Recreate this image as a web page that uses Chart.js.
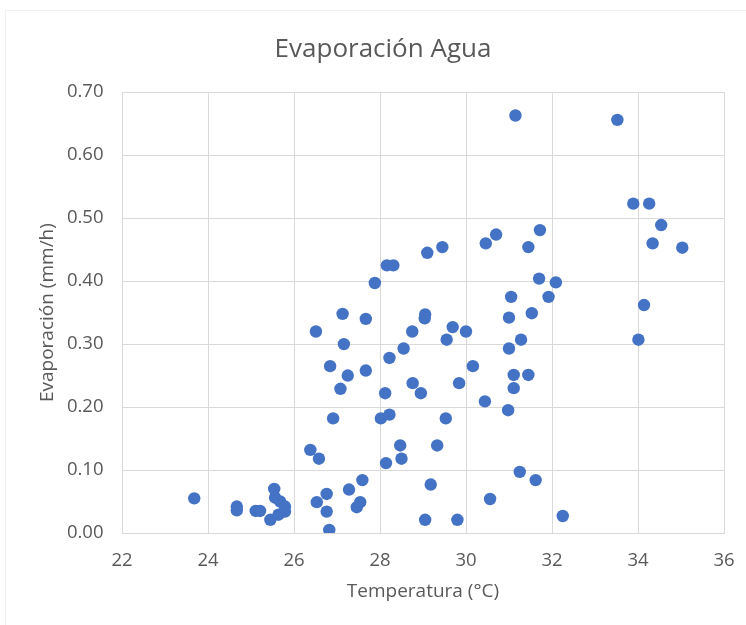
<!DOCTYPE html>
<html>
<head>
<meta charset="utf-8">
<script src="https://cdn.jsdelivr.net/npm/chart.js@4/dist/chart.umd.min.js"></script>
<style>
  html, body { margin: 0; padding: 0; background: #fff; }
  #wrap { width: 746px; height: 625px; }
</style>
</head>
<body>
<div id="wrap"><canvas id="evapChart" width="746" height="625"></canvas></div>
<script>
// data
const temperatura = [
    23.68, 24.67, 24.67, 25.11, 25.21, 25.45, 25.54, 25.56, 25.68, 25.79,
    25.79, 25.64, 26.53, 26.76, 26.76, 26.82, 27.28, 27.59, 27.46, 27.54,
    29.05, 29.18, 26.38, 26.58, 26.91, 28.14, 28.47, 28.50, 28.02, 28.22,
    26.51, 27.13, 27.67, 27.16, 26.84, 27.25, 27.67, 27.08, 28.22, 28.55,
    28.75, 29.05, 29.04, 28.76, 28.95, 28.12, 29.69, 29.55, 30.00, 31.00,
    31.53, 31.28, 31.00, 34.14, 34.01, 30.16, 29.84, 31.11, 31.45, 31.11,
    30.44, 30.98, 29.53, 29.33, 31.25, 31.62, 30.56, 29.80, 32.25, 31.15,
    33.52, 33.89, 34.26, 34.54, 34.34, 35.03, 29.10, 29.45, 30.46, 30.70,
    31.72, 31.45, 31.70, 32.09, 31.92, 31.05, 28.16, 28.31, 27.88
];
const evaporacion = [
    0.055, 0.042, 0.036, 0.035, 0.035, 0.021, 0.070, 0.056, 0.050, 0.042,
    0.034, 0.029, 0.049, 0.062, 0.034, 0.005, 0.069, 0.084, 0.041, 0.049,
    0.021, 0.077, 0.132, 0.118, 0.182, 0.111, 0.139, 0.118, 0.182, 0.188,
    0.320, 0.348, 0.340, 0.300, 0.265, 0.250, 0.258, 0.229, 0.278, 0.293,
    0.320, 0.347, 0.341, 0.238, 0.222, 0.222, 0.327, 0.307, 0.320, 0.342,
    0.349, 0.307, 0.293, 0.362, 0.307, 0.265, 0.238, 0.251, 0.251, 0.230,
    0.209, 0.195, 0.182, 0.139, 0.097, 0.084, 0.054, 0.021, 0.027, 0.663,
    0.656, 0.523, 0.523, 0.489, 0.460, 0.453, 0.445, 0.454, 0.460, 0.474,
    0.481, 0.454, 0.404, 0.398, 0.375, 0.375, 0.425, 0.425, 0.397
];
const xTicks = [22, 24, 26, 28, 30, 32, 34, 36];
const yTicks = [0, 0.1, 0.2, 0.3, 0.4, 0.5, 0.6, 0.7];

const textColor = '#595959';
const gridColor = '#d9d9d9';
const fontFamily = '"Open Sans", "Noto Sans", sans-serif';

const points = temperatura.map((t, i) => ({ x: t, y: evaporacion[i] }));

// white background + faint chart frame; also re-centre the title on the frame
const frame = {
    id: 'frame',
    afterLayout(chart) {
        if (chart.titleBlock) {
            chart.titleBlock.left = 20;
            chart.titleBlock.right = chart.width;
        }
    },
    beforeDraw(chart) {
        const c = chart.ctx;
        c.save();
        c.fillStyle = '#fff';
        c.fillRect(0, 0, chart.width, chart.height);
        c.strokeStyle = '#f0f0f0';
        c.lineWidth = 1;
        c.strokeRect(5.5, 10.5, chart.width, chart.height);
        c.restore();
    }
};

const ctx = document.getElementById('evapChart').getContext('2d');
const evapChart = new Chart(ctx, {
    type: 'scatter',
    data: {
        datasets: [{
            data: points,
            backgroundColor: '#4472C4',
            borderColor: '#4472C4',
            borderWidth: 0,
            pointRadius: 6.2,
            pointHoverRadius: 6.2
        }]
    },
    options: {
        responsive: false,
        animation: false,
        layout: {
            padding: { left: 0, right: 22, top: 0, bottom: 0 }
        },
        plugins: {
            legend: { display: false },
            tooltip: { enabled: false },
            title: {
                display: true,
                text: 'Evaporación Agua',
                color: textColor,
                font: { family: fontFamily, size: 26, weight: 'normal' },
                padding: { top: 34, bottom: 27 }
            }
        },
        scales: {
            x: {
                type: 'linear',
                min: 22,
                max: 36,
                afterBuildTicks: (scale) => {
                    scale.ticks = xTicks.map(v => ({ value: v }));
                },
                afterFit: (scale) => {
                    scale.height = 92;
                    scale.paddingLeft = 0;
                    scale.paddingRight = 0;
                },
                grid: { color: gridColor, lineWidth: 1, drawTicks: false },
                border: { color: gridColor },
                ticks: {
                    color: textColor,
                    font: { family: fontFamily, size: 18.5 },
                    padding: 17
                },
                title: {
                    display: true,
                    text: 'Temperatura (°C)',
                    color: textColor,
                    font: { family: fontFamily, size: 19 },
                    padding: { top: 0, bottom: 22.5 }
                }
            },
            y: {
                type: 'linear',
                min: 0,
                max: 0.7,
                afterBuildTicks: (scale) => {
                    scale.ticks = yTicks.map(v => ({ value: v }));
                },
                afterFit: (scale) => { scale.width = 122; },
                grid: { color: gridColor, lineWidth: 1, drawTicks: false },
                border: { color: gridColor },
                ticks: {
                    color: textColor,
                    font: { family: fontFamily, size: 18.5 },
                    padding: 18.5,
                    callback: (v) => Number(v).toFixed(2)
                },
                title: {
                    display: true,
                    text: 'Evaporación (mm/h)',
                    color: textColor,
                    font: { family: fontFamily, size: 19 },
                    padding: { top: 36.5, bottom: 0 }
                }
            }
        }
    },
    plugins: [frame]
});
</script>
</body>
</html>
